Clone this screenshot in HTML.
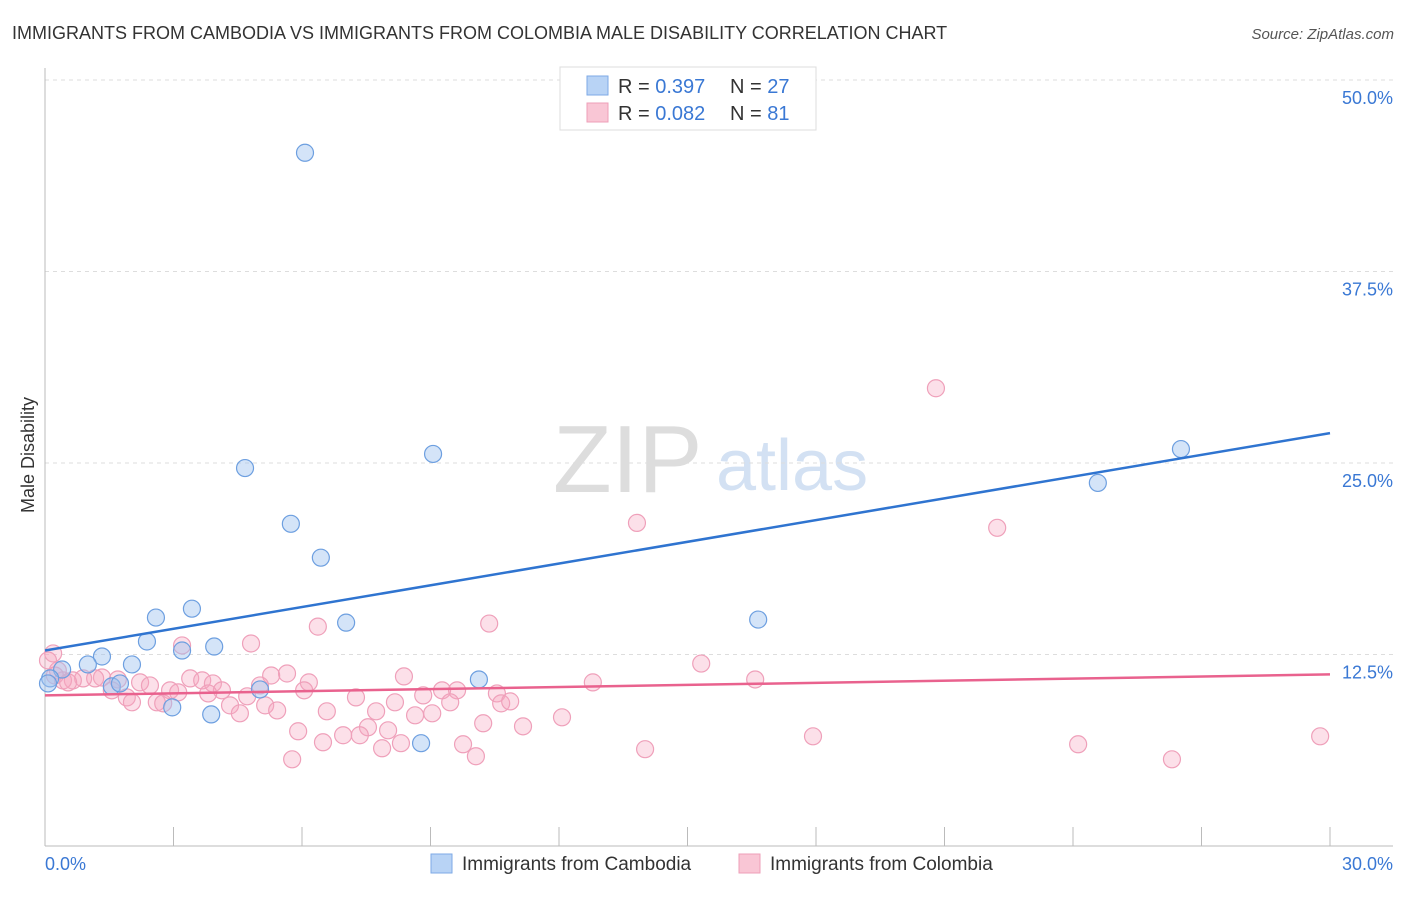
<!DOCTYPE html>
<html><head><meta charset="utf-8">
<style>
body{margin:0;background:#fff;font-family:"Liberation Sans",sans-serif;}
svg text{font-family:"Liberation Sans",sans-serif;}
</style></head>
<body>
<svg id="chart" width="1406" height="892" viewBox="0 0 1406 892">
<text x="12" y="39" font-size="18" fill="#333">IMMIGRANTS FROM CAMBODIA VS IMMIGRANTS FROM COLOMBIA MALE DISABILITY CORRELATION CHART</text>
<text x="1394" y="39" font-size="15" fill="#555" font-style="italic" text-anchor="end">Source: ZipAtlas.com</text>
<g>
<text x="553" y="492" font-size="96" fill="#ddd" font-family="Liberation Serif">ZIP</text>
<text x="716" y="490" font-size="72" fill="#d3e1f3">atlas</text>
</g>
<g id="grid"></g>
<g id="axes"></g>
<g id="pts"></g>
<g id="trend"></g>
<text x="34" y="455" font-size="18" fill="#333" text-anchor="middle" transform="rotate(-90 34 455)">Male Disability</text>
<g>
<rect x="560" y="67" width="256" height="63" fill="#fff" stroke="#ddd"/>
<rect x="587" y="76" width="21" height="19" fill="#b8d3f5" stroke="#7eaae6"/>
<rect x="587" y="103" width="21" height="19" fill="#f9c6d5" stroke="#ee9fb8"/>
<text x="618" y="93" font-size="20" fill="#333">R = <tspan fill="#3a78d4">0.397</tspan><tspan x="730">N = </tspan><tspan fill="#3a78d4">27</tspan></text>
<text x="618" y="120" font-size="20" fill="#333">R = <tspan fill="#3a78d4">0.082</tspan><tspan x="730">N = </tspan><tspan fill="#3a78d4"> 81</tspan></text>
</g>
<g>
<rect x="431" y="854" width="21" height="19" fill="#b8d3f5" stroke="#7eaae6"/>
<text x="462" y="870" font-size="19" fill="#333">Immigrants from Cambodia</text>
<rect x="739" y="854" width="21" height="19" fill="#f9c6d5" stroke="#ee9fb8"/>
<text x="770" y="870" font-size="19" fill="#333">Immigrants from Colombia</text>
</g>
</svg>
<script>
const yTicks=[12.5,25,37.5,50];
const yTickLabels=["12.5%","25.0%","37.5%","50.0%"];
const xTicks=[0,3,6,9,12,15,18,21,24,27,30];
const xEndLabels=["0.0%","30.0%"];
const cambodiaX=[6.07,4.67,9.06,5.74,6.44,26.52,24.58,2.59,3.43,2.38,3.20,3.95,7.03,16.65,1.33,2.03,1.00,0.40,0.12,1.56,1.75,5.02,2.97,3.88,8.78,10.13,0.07];
const cambodiaY=[45.25,24.67,25.59,21.03,18.82,25.91,23.70,14.91,15.49,13.35,12.76,13.02,14.58,14.78,12.37,11.85,11.85,11.52,10.94,10.42,10.61,10.22,9.05,8.59,6.71,10.87,10.61];
const colombiaX=[0.19,3.20,4.81,6.37,10.37,8.38,5.65,5.28,6.16,6.05,5.02,4.72,5.14,5.42,4.32,4.55,3.39,3.67,3.92,4.13,3.81,2.92,3.11,2.61,2.76,2.22,2.45,1.70,1.56,1.91,2.03,1.33,1.17,0.89,0.65,0.42,0.30,7.26,6.58,7.73,8.17,8.83,9.27,9.62,8.64,9.04,9.46,10.55,10.65,10.86,11.16,10.23,7.54,8.01,5.91,6.96,7.35,6.49,8.31,7.87,9.76,10.06,5.77,12.07,14.01,17.93,24.12,26.31,29.77,20.80,13.82,22.23,15.32,16.58,12.79,0.07,0.23,0.54];
const colombiaY=[12.57,13.09,13.22,14.32,14.52,11.07,11.26,11.13,10.68,10.16,10.48,9.77,9.18,8.85,9.18,8.66,10.94,10.81,10.61,10.16,9.96,10.16,10.03,9.38,9.31,10.68,10.48,10.87,10.16,9.70,9.38,11.00,10.94,10.94,10.81,10.81,11.46,9.70,8.79,8.79,9.38,9.83,10.16,10.16,8.53,8.66,9.38,9.96,9.31,9.44,7.81,8.01,7.75,7.55,7.49,7.23,7.23,6.77,6.71,6.38,6.64,5.86,5.66,8.40,6.32,7.16,6.64,5.66,7.16,29.88,21.09,20.77,11.91,10.87,10.68,12.11,11.13,10.68];
const trendX=[0,30];
const cambodiaTrend=[12.76,26.95];
const colombiaTrend=[9.83,11.20];

const NS="http://www.w3.org/2000/svg";
const sx=v=>45+v*(1285/30);
const sy=v=>846-v*(766/50);
function mk(tag,attrs,parent){const e=document.createElementNS(NS,tag);for(const k in attrs)e.setAttribute(k,attrs[k]);parent.appendChild(e);return e;}
const grid=document.getElementById('grid'),axes=document.getElementById('axes'),pts=document.getElementById('pts'),trend=document.getElementById('trend');
yTicks.forEach((t,i)=>{
 const l=mk('line',{x1:45,x2:1393,y1:sy(t),y2:sy(t),stroke:'#ddd','stroke-dasharray':'4 4'},grid);
 
 
 const tx=mk('text',{x:1393,y:sy(t)+24,'font-size':18,fill:'#3a78d4','text-anchor':'end'},axes);
 tx.textContent=yTickLabels[i];
 
 
});
const ya=mk('line',{x1:45,x2:45,y1:68,y2:846,stroke:'#bbb'},axes);


const xa=mk('line',{x1:45,x2:1393,y1:846,y2:846,stroke:'#bbb'},axes);


xTicks.forEach(t=>{
 const l=mk('line',{x1:sx(t),x2:sx(t),y1:827,y2:846,stroke:'#bbb'},axes);
 
 
});
[[0,'start'],[30,'end']].forEach((p,i)=>{
 const tx=mk('text',{x:i?1393:45,y:870,'font-size':18,fill:'#3a78d4','text-anchor':p[1]},axes);
 tx.textContent=xEndLabels[i];
 
 
});
colombiaX.forEach((x,i)=>{
 const c=mk('circle',{cx:sx(x),cy:sy(colombiaY[i]),r:8.5,fill:'rgba(245,165,192,0.35)',stroke:'#efa0ba','stroke-width':1.2},pts);
 
 
});
cambodiaX.forEach((x,i)=>{
 const c=mk('circle',{cx:sx(x),cy:sy(cambodiaY[i]),r:8.5,fill:'rgba(160,196,240,0.45)',stroke:'#6d9fe0','stroke-width':1.2},pts);
 
 
});
const tb=mk('line',{x1:sx(trendX[0]),x2:sx(trendX[1]),y1:sy(cambodiaTrend[0]),y2:sy(cambodiaTrend[1]),stroke:'#2f74d0','stroke-width':2.5},trend);


const tp=mk('line',{x1:sx(trendX[0]),x2:sx(trendX[1]),y1:sy(colombiaTrend[0]),y2:sy(colombiaTrend[1]),stroke:'#e9628e','stroke-width':2.5},trend);


</script>
</body></html>
